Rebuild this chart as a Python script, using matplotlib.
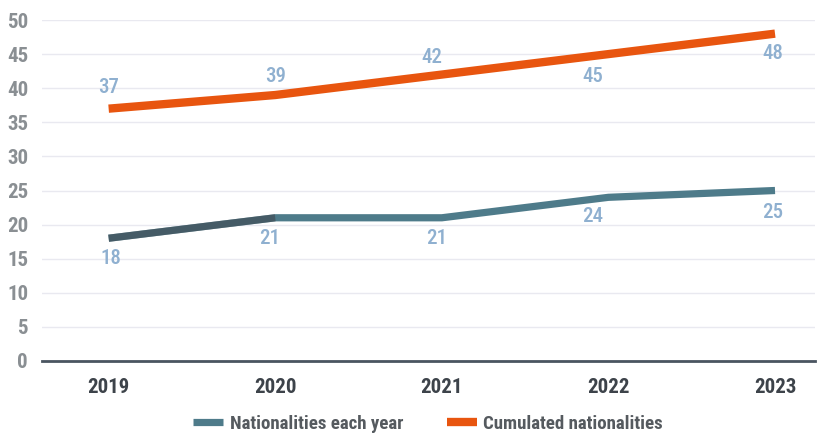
import matplotlib.pyplot as plt

# -----------------------------
# Data
# -----------------------------
years = ["2019", "2020", "2021", "2022", "2023"]
each_year = [18, 21, 21, 24, 25]
cumulated = [37, 39, 42, 45, 48]

# label offsets (pixels) for the value labels
cum_offsets = [(0, 21), (0, 19), (-10, 17), (-16, -22), (-2, -20)]
each_offsets = [(2, -20), (-6, -21), (-5, -21), (-16, -19), (-2, -22)]

plt.rcParams["font.family"] = ["Roboto Condensed", "DejaVu Sans"]

ORANGE = "#e8550f"
TEAL = "#4e7b8a"
DARK = "#40474e"
LABEL = "#8fb0d0"

fig = plt.figure(figsize=(8.28, 4.38), dpi=100)
ax = fig.add_axes([42 / 828, 1 - 361 / 438, (815 - 42) / 828, (361 - 20) / 438])

x = list(range(len(years)))

# -----------------------------
# Lines
# -----------------------------
ax.plot(x, each_year, color=TEAL, linewidth=5.2, solid_capstyle="butt",
        solid_joinstyle="miter", label="Nationalities each year", zorder=3)
ax.plot(x[:2], each_year[:2], color=DARK, linewidth=5.2, solid_capstyle="butt",
        alpha=0.6, zorder=3)
ax.plot(x, cumulated, color=ORANGE, linewidth=6, solid_capstyle="butt",
        solid_joinstyle="miter", label="Cumulated nationalities", zorder=3)

for xi, v, off in zip(x, cumulated, cum_offsets):
    ax.annotate(str(v), (xi, v), xytext=off, textcoords="offset pixels",
                ha="center", va="center", color=LABEL, fontsize=15,
                fontweight="medium")
for xi, v, off in zip(x, each_year, each_offsets):
    ax.annotate(str(v), (xi, v), xytext=off, textcoords="offset pixels",
                ha="center", va="center", color=LABEL, fontsize=15,
                fontweight="medium")

# -----------------------------
# Axes styling
# -----------------------------
ax.set_xlim(-0.4, 4.24)
ax.set_ylim(0, 50)
ax.set_yticks(range(0, 51, 5))
ax.set_xticks(x)
ax.set_xticklabels(years)
ax.grid(axis="y", color="#e9e9f0", linewidth=1)
ax.set_axisbelow(True)
for s in ["top", "right", "left"]:
    ax.spines[s].set_visible(False)
ax.spines["bottom"].set_color("#4a5560")
ax.spines["bottom"].set_linewidth(2)
ax.tick_params(axis="y", length=0, pad=10, labelsize=15, labelcolor="#8a8f93")
ax.tick_params(axis="x", length=0, pad=12, labelsize=15, labelcolor="#3d434a")
for t in ax.get_yticklabels():
    t.set_fontweight("bold")
for t in ax.get_xticklabels():
    t.set_fontweight("bold")

leg = fig.legend(loc="center", bbox_to_anchor=(428 / 828, 1 - 424 / 438), ncol=2,
                 frameon=False, handlelength=1.6, handletextpad=0.35,
                 columnspacing=2.3, prop={"size": 13.6, "weight": "bold"})
for t in leg.get_texts():
    t.set_color("#555a5f")

fig.savefig("out.png", dpi=100)
